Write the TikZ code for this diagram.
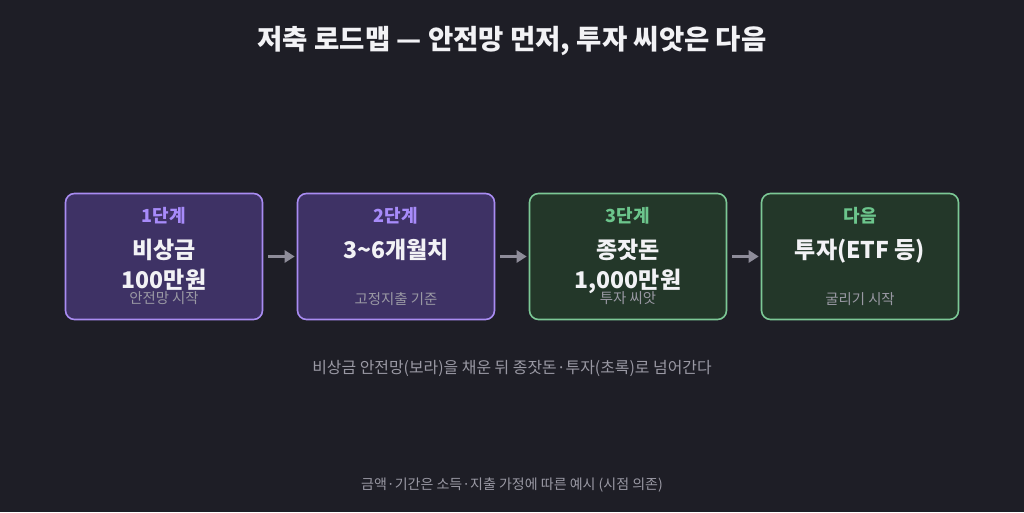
\documentclass[tikz,border=0pt]{standalone}
\usepackage{fontspec}
\setmainfont{Noto Sans CJK KR}
\usepackage{tikz}
\usetikzlibrary{arrows.meta,positioning,calc}
\definecolor{mapBg}{HTML}{1E1E26}
\definecolor{mapText}{HTML}{F2F2F5}
\definecolor{mapGray}{HTML}{9A99A4}
\definecolor{mapArrow}{HTML}{8E8C99}
\definecolor{safeFill}{HTML}{3E3265}
\definecolor{safeLine}{HTML}{A98CF2}
\definecolor{safeLabel}{HTML}{A78BFA}
\definecolor{seedFill}{HTML}{233729}
\definecolor{seedLine}{HTML}{7CC896}
\definecolor{seedLabel}{HTML}{6CC58C}

\begin{document}
\begin{tikzpicture}[x=1pt,y=1pt]
\tikzset{stagebox/.style={rectangle, rounded corners=9pt, line width=1.6pt,
  minimum width=197pt, minimum height=126pt, inner sep=0pt},
 safebox/.style={stagebox, fill=safeFill, draw=safeLine},
 seedbox/.style={stagebox, fill=seedFill, draw=seedLine},
 steplabel/.style={font=\fontsize{18}{20}\selectfont\bfseries, inner sep=0pt},
 maintext/.style={font=\fontsize{23}{26}\selectfont\bfseries, color=mapText, anchor=base, inner sep=0pt},
 subtext/.style={font=\fontsize{14.4}{16}\selectfont, color=mapGray, inner sep=0pt},
 arr/.style={-{Triangle[length=10pt,width=12pt]}, line width=3pt, draw=mapArrow,
  shorten <=5pt, shorten >=2pt}}

\fill[mapBg] (0,0) rectangle (1024,512);

\node[font=\fontsize{27.5}{30}\selectfont\bfseries, color=mapText] (title) at (512,471)
 {저축 로드맵 — 안전망 먼저, 투자 씨앗은 다음};

\node[safebox] (b1) at (164,255.5) {};
\node[safebox] (b2) at (396,255.5) {};
\node[seedbox] (b3) at (628,255.5) {};
\node[seedbox] (b4) at (860,255.5) {};

% stage labels
\node[steplabel, color=safeLabel] (s1) at ($(b1.north)+(0,-23)$) {1단계};
\node[steplabel, color=safeLabel] (s2) at ($(b2.north)+(0,-23)$) {2단계};
\node[steplabel, color=seedLabel] (s3) at ($(b3.north)+(0,-23)$) {3단계};
\node[steplabel, color=seedLabel] (s4) at ($(b4.north)+(0,-23)$) {다음};

% main amounts
\node[maintext] (m1) at ($(b1.north)+(0,-66)$) {비상금};
\node[maintext] (m1b) at ($(m1.base)+(0,-30)$) {100만원};
\node[maintext] (m2) at ($(b2.north)+(0,-66)$) {3\textasciitilde6개월치};
\node[maintext] (m3) at ($(b3.north)+(0,-66)$) {종잣돈};
\node[maintext] (m3b) at ($(m3.base)+(0,-30)$) {1,000만원};
\node[maintext] (m4) at ($(b4.north)+(0,-66)$) {투자(ETF 등)};

% notes under the amounts
\node[subtext] (n1) at ($(b1.north)+(0,-105)$) {안전망 시작};
\node[subtext] (n2) at ($(b2.north)+(0,-106)$) {고정지출 기준};
\node[subtext] (n3) at ($(b3.north)+(0,-105)$) {투자 씨앗};
\node[subtext] (n4) at ($(b4.north)+(0,-106)$) {굴리기 시작};

\draw[arr] (b1) -- (b2);
\draw[arr] (b2) -- (b3);
\draw[arr] (b3) -- (b4);

\node[font=\fontsize{15.9}{18}\selectfont, color=mapGray] (note) at (512,144)
 {비상금 안전망(보라)을 채운 뒤 종잣돈·투자(초록)로 넘어간다};
\node[font=\fontsize{14}{16}\selectfont, color=mapGray] (foot) at (512,27)
 {금액·기간은 소득·지출 가정에 따른 예시 (시점 의존)};
\end{tikzpicture}
\end{document}
